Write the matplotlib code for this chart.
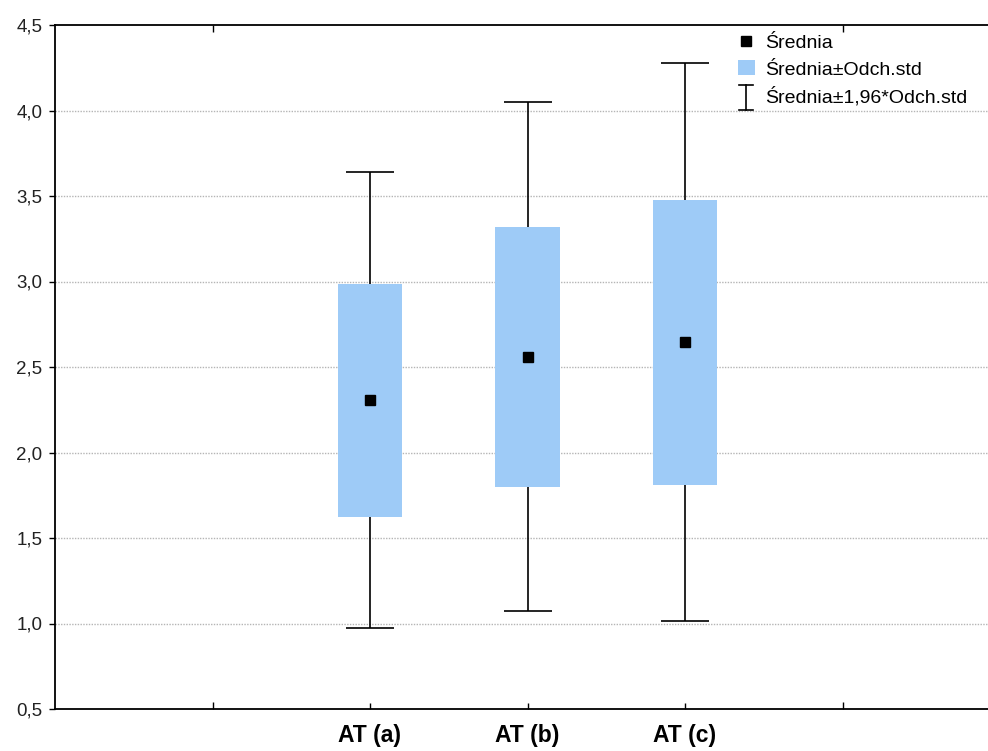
import matplotlib
matplotlib.use("Agg")
import matplotlib.pyplot as plt
from matplotlib.lines import Line2D
from matplotlib.patches import Patch
from matplotlib.legend_handler import HandlerBase
import numpy as np

plt.rcParams['font.family'] = ['Liberation Sans', 'DejaVu Sans']

categories = ["AT (a)", "AT (b)", "AT (c)"]
means = [2.305, 2.56, 2.645]
stds = [0.68, 0.76, 0.833]
y_ticks = [0.5, 1.0, 1.5, 2.0, 2.5, 3.0, 3.5, 4.0, 4.5]
y_tick_labels = ["0,5", "1,0", "1,5", "2,0", "2,5", "3,0", "3,5", "4,0", "4,5"]

box_color = "#9ecbf7"


class WhiskerHandle:
    pass


class HandlerWhisker(HandlerBase):
    """Draws an 'I' shaped whisker symbol in the legend."""

    def create_artists(self, legend, orig_handle, xdescent, ydescent,
                       width, height, fontsize, trans):
        cx = -xdescent + width / 2
        y0 = -ydescent - 0.45 * height
        y1 = -ydescent + 1.2 * height
        half = 0.42 * width
        arts = [
            Line2D([cx, cx], [y0, y1], color="black", lw=1.2),
            Line2D([cx - half, cx + half], [y0, y0], color="black", lw=1.2),
            Line2D([cx - half, cx + half], [y1, y1], color="black", lw=1.2),
        ]
        for a in arts:
            a.set_transform(trans)
        return arts


fig = plt.figure(figsize=(9.88, 7.51), dpi=100)
W, H = 988, 751
left, right, top, bottom = 55, 1000, 25, 709
ax = fig.add_axes([left / W, 1 - bottom / H, (right - left) / W, (bottom - top) / H])

x = np.arange(1, len(categories) + 1)
m = np.array(means)
s = np.array(stds)

box_w = 0.41
for xi, mi, si in zip(x, m, s):
    ax.bar(xi, 2 * si, bottom=mi - si, width=box_w, color=box_color,
           edgecolor="none", zorder=2)

ax.errorbar(x, m, yerr=1.96 * s, fmt="none", ecolor="black",
            elinewidth=1.2, capsize=17, capthick=1.2, zorder=1)
ax.plot(x, m, linestyle="none", marker="s", markersize=7.5,
        color="black", zorder=3)

ax.set_xlim(-1, 5)
ax.set_ylim(0.5, 4.5)
ax.set_yticks(y_ticks)
ax.set_yticklabels(y_tick_labels, fontsize=13.5, color="#222222")
ax.set_xticks(x)
ax.set_xticklabels(categories, fontsize=16.5, fontweight="bold")
ax.tick_params(axis="x", length=4, width=1, direction="in", pad=11)
ax.tick_params(axis="y", length=4, width=1, direction="out", pad=5)

# minor ticks at the group boundaries
ax.set_xticks([0, 4], minor=True)
ax.tick_params(axis="x", which="minor", length=5, direction="in", top=True,
               bottom=True, width=1)

for yv in y_ticks[1:-1]:
    ax.axhline(yv, color="#b5b5b5", linestyle=(0, (1, 1)), linewidth=1.0,
               zorder=0)

for sp in ["left", "bottom", "top"]:
    ax.spines[sp].set_linewidth(1.3)
ax.spines["right"].set_visible(False)

handles = [
    Line2D([], [], linestyle="none", marker="s", markersize=7.5, color="black"),
    Patch(facecolor=box_color, edgecolor="none"),
    WhiskerHandle(),
]
labels = ["Średnia", "Średnia±Odch.std", "Średnia±1,96*Odch.std"]
leg = fig.legend(handles, labels, loc="upper left",
                 bbox_to_anchor=(738 / W, 1 - 34 / H),
                 bbox_transform=fig.transFigure,
                 frameon=False, fontsize=14, handlelength=0.85,
                 handleheight=0.8, handletextpad=0.55, labelspacing=0.42,
                 borderaxespad=0.0, borderpad=0.0,
                 handler_map={WhiskerHandle: HandlerWhisker()})

fig.savefig("out.png", dpi=100, facecolor="white")
